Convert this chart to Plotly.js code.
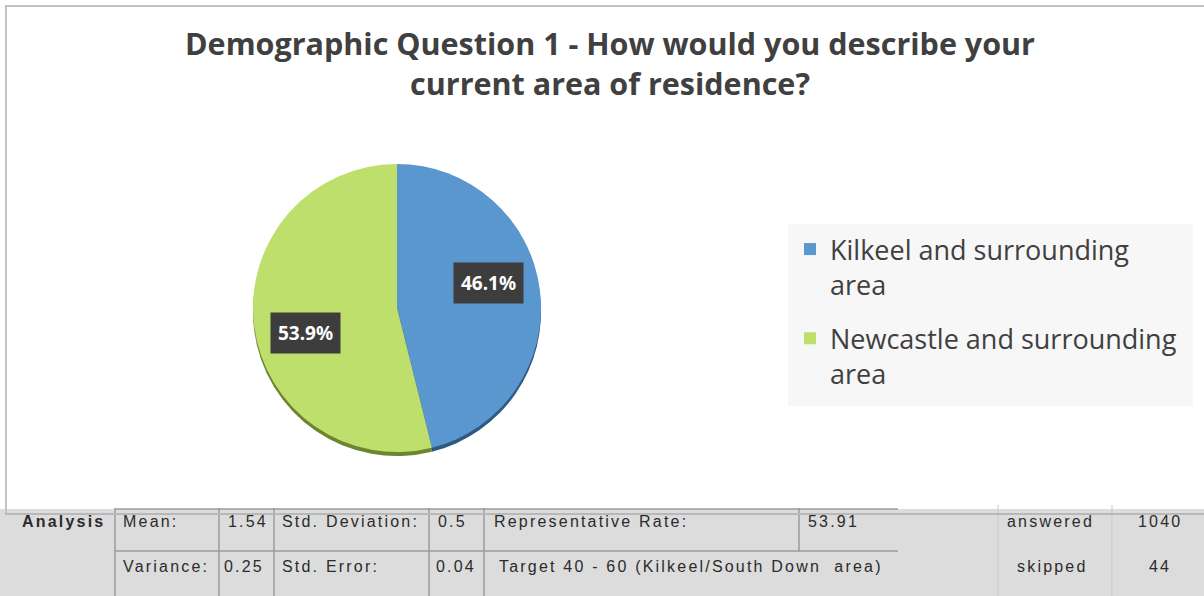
<!DOCTYPE html>
<html>
<head>
<meta charset="utf-8">
<script src="https://cdn.plot.ly/plotly-3.0.1.min.js"></script>
<style>
  html, body { margin: 0; padding: 0; background: #ffffff; }
  #chart { width: 1204px; height: 596px; }
</style>
</head>
<body>
<div id="chart"></div>
<script>
// ---- data ----
const categories = ['Kilkeel and surrounding<br>area', 'Newcastle and surrounding<br>area'];
const shares = [46.1, 53.9];
const sliceColors = ['#5b97cf', '#bfdf6c'];
const rimColors = ['#2e5a82', '#6c8530'];

const titleText = 'Demographic Question 1 - How would you describe your<br>current area of residence?';

// analysis strip (table under the chart)
const row1Labels = ['Mean:', 'Std. Deviation:', 'Representative Rate:'];
const row1Values = ['1.54', '0.5', '53.91'];
const row2Labels = ['Variance:', 'Std. Error:', 'Target 40 - 60 (Kilkeel/South Down  area)'];
const row2Values = ['0.25', '0.04'];
const countLabels = ['answered', 'skipped'];
const countValues = ['1040', '44'];

// ---- helpers (pixel -> paper, margins are 0) ----
const W = 1204, H = 596;
const px = x => x / W;
const py = y => 1 - y / H;

// pie geometry
const cx = 397, cy = 308, R = 144;
const dom = { x: [px(cx - R), px(cx + R)], y: [py(cy + R), py(cy - R)] };
const rimDom = { x: [px(cx - R), px(cx + R)], y: [py(cy + R + 4), py(cy - R + 4)] };

const traces = [
  {
    type: 'pie', labels: categories, values: shares, sort: false,
    direction: 'clockwise', rotation: 0, textinfo: 'none', hoverinfo: 'skip',
    marker: { colors: rimColors, line: { width: 0 } },
    domain: rimDom, showlegend: false
  },
  {
    type: 'pie', labels: categories, values: shares, sort: false,
    direction: 'clockwise', rotation: 0, textinfo: 'none',
    marker: { colors: sliceColors, line: { width: 0 } },
    domain: dom, showlegend: true
  }
];

// data labels (dark boxes) placed around the slice mid-angles
const total = shares.reduce((a, b) => a + b, 0);
const annotations = [];
let cum = 0;
const labelR = 0.66 * R;
shares.forEach((v, i) => {
  const mid = (cum + v / 2) / total;
  cum += v;
  const th = 2 * Math.PI * mid - 8 * Math.PI / 180;
  const x = cx + labelR * Math.sin(th);
  const y = cy - labelR * Math.cos(th);
  annotations.push({
    xref: 'paper', yref: 'paper', x: px(x), y: py(y), xanchor: 'center', yanchor: 'middle',
    text: '<b>' + v.toFixed(1) + '%</b>', showarrow: false,
    font: { family: 'Noto Sans', size: 19, color: '#ffffff' },
    bgcolor: '#3d3d3d', borderpad: 7
  });
});

// table text
const tFont = { family: 'Liberation Sans, Arial', size: 16, color: '#2b2b2b' };
function tAnn(text, x, y, anchor, bold) {
  let t = '<span style="letter-spacing:2.2px">' + text + '</span>';
  if (bold) t = '<b>' + t + '</b>';
  annotations.push({
    xref: 'paper', yref: 'paper', x: px(x), y: py(y), xanchor: anchor || 'left',
    yanchor: 'middle', showarrow: false, text: t, font: tFont
  });
}
const r1 = 521, r2 = 566;
tAnn('Analysis', 20, r1, 'left', true);
tAnn(row1Labels[0], 121, r1);
tAnn(row1Values[0], 226, r1);
tAnn(row1Labels[1], 280, r1);
tAnn(row1Values[1], 436, r1);
tAnn(row1Labels[2], 492, r1);
tAnn(row1Values[2], 806, r1);
tAnn(countLabels[0], 1050, r1, 'center');
tAnn(countValues[0], 1160, r1, 'center');
tAnn(row2Labels[0], 121, r2);
tAnn(row2Values[0], 222, r2);
tAnn(row2Labels[1], 280, r2);
tAnn(row2Values[1], 434, r2);
tAnn(row2Labels[2], 497, r2);
tAnn(countLabels[1], 1052, r2, 'center');
tAnn(countValues[1], 1160, r2, 'center');

// shapes: gray strip, chart border, table grid
const shapes = [];
function rect(x0, y0, x1, y1, fill, layer) {
  shapes.push({ type: 'rect', xref: 'paper', yref: 'paper', x0: px(x0), x1: px(x1), y0: py(y1), y1: py(y0),
    fillcolor: fill, line: { width: 0 }, layer: layer || 'below' });
}
function line(x0, y0, x1, y1, color, w) {
  shapes.push({ type: 'line', xref: 'paper', yref: 'paper', x0: px(x0), x1: px(x1), y0: py(y0), y1: py(y1),
    line: { color: color, width: w }, layer: 'above' });
}
rect(0, 509, W, H, '#dcdcdc');
rect(788, 224, 1193, 406, '#f7f7f7');
const grid = '#9c9c9c';
line(115, 508, 115, H, grid, 1.5);
line(219, 508, 219, H, grid, 1.5);
line(274, 508, 274, H, grid, 1.5);
line(429, 508, 429, H, grid, 1.5);
line(484, 508, 484, H, grid, 1.5);
line(799, 508, 799, 551, grid, 1.5);
line(115, 509, 898, 509, grid, 1.5);
line(115, 551, 898, 551, grid, 1.5);
line(998, 505, 998, H, '#c9c9c9', 1);
line(1112, 505, 1112, H, '#c9c9c9', 1);
// chart frame
line(6, 5, 6, 514, '#c2c2c2', 2);
line(5, 6, W, 6, '#c2c2c2', 2);
line(5, 514, W, 514, '#b8b8b8', 2);

const layout = {
  width: W, height: H,
  margin: { l: 0, r: 0, t: 0, b: 0 },
  paper_bgcolor: '#ffffff',
  title: {
    text: '<b>' + titleText + '</b>',
    x: px(610), xanchor: 'center', xref: 'paper',
    y: py(55), yanchor: 'top', yref: 'paper',
    font: { family: 'Open Sans', size: 30.5, color: '#404040' }
  },
  showlegend: true,
  legend: {
    x: px(790), y: py(225), xanchor: 'left', yanchor: 'top',
    bgcolor: 'rgba(0,0,0,0)', valign: 'top',
    font: { family: 'Open Sans', size: 27, color: '#404040' },
    itemsizing: 'constant'
  },
  shapes: shapes,
  annotations: annotations
};

Plotly.newPlot('chart', traces, layout, { displayModeBar: false, staticPlot: true }).then(gd => {
  // the original legend leaves a wider gap between its two entries
  const gap = 16;
  gd.querySelectorAll('clipPath[id^="legend"] rect').forEach(r => {
    const h = parseFloat(r.getAttribute('height') || '0');
    r.setAttribute('height', String(h + 60));
  });
  gd.querySelectorAll('.legend .traces').forEach((g, i) => {
    if (i === 0) return;
    const tr = g.getAttribute('transform') || '';
    const m = tr.match(/translate\(\s*([-\d.]+)[ ,]+([-\d.]+)\s*\)/);
    if (m) g.setAttribute('transform', 'translate(' + m[1] + ',' + (parseFloat(m[2]) + gap * i) + ')');
  });
});
</script>
</body>
</html>
